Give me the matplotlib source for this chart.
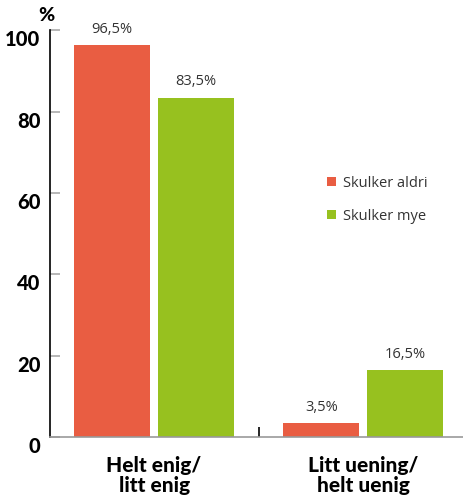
import numpy as np
import matplotlib.pyplot as plt
import matplotlib.transforms as mtransforms
from matplotlib.ticker import FixedLocator

# Data
categories = ['Helt enig/\nlitt enig', 'Litt uening/\nhelt uenig']
series_names = ['Skulker aldri', 'Skulker mye']
skulker_aldri = [96.5, 3.5]
skulker_mye = [83.5, 16.5]
yticks = [0, 20, 40, 60, 80, 100]

orange = '#E95D42'
green = '#97C11F'
text_grey = '#333333'

plt.rcParams['font.family'] = ['Lato', 'DejaVu Sans']

fig = plt.figure(figsize=(4.63, 4.98), dpi=100)
ax = fig.add_axes([50 / 463, 61 / 498, 1 - 50 / 463, (437 - 30.5) / 498])

x = np.arange(len(categories))
w = 0.364
off = 0.2
b1 = ax.bar(x - off, skulker_aldri, w, color=orange, label=series_names[0])
b2 = ax.bar(x + off, skulker_mye, w, color=green, label=series_names[1])

# value labels
for bars in (b1, b2):
    for rect in bars:
        h = rect.get_height()
        ax.text(rect.get_x() + rect.get_width() / 2, h + 2.0,
                f'{h:.1f}%'.replace('.', ','), ha='center', va='bottom',
                fontsize=10.5, color=text_grey, family=['Open Sans', 'DejaVu Sans'])

ax.set_xlim(-0.498, 1.478)
ax.set_ylim(0, 100)

# axes styling
for s in ('top', 'right'):
    ax.spines[s].set_visible(False)
ax.spines['left'].set_color('black')
ax.spines['left'].set_linewidth(1.2)
ax.spines['bottom'].set_color('#999999')
ax.spines['bottom'].set_linewidth(1.2)

ax.set_yticks(yticks)
ax.set_yticklabels([str(v) for v in yticks], fontsize=14.5, fontweight='black')
ax.tick_params(axis='y', direction='in', length=7, width=1.2, color='#aaaaaa',
               pad=7, labelcolor='black')
# labels sit a little below their ticks in the original
shift = mtransforms.ScaledTranslation(0, -8 / 100, fig.dpi_scale_trans)
for lab in ax.get_yticklabels():
    lab.set_transform(lab.get_transform() + shift)

ax.set_xticks(x)
ax.set_xticklabels(categories, fontsize=15, fontweight='black', linespacing=1.05)
ax.tick_params(axis='x', length=0, pad=14)
ax.xaxis.set_minor_locator(FixedLocator([0.5]))
ax.tick_params(axis='x', which='minor', direction='in', length=7, width=1.2,
               color='black')

# percent sign above axis
ax.text(-0.008, 1.016, '%', transform=ax.transAxes, ha='center', va='bottom',
        fontsize=14, fontweight='black')

ax.legend(loc='upper left', bbox_to_anchor=(0.64, 0.675), frameon=False,
          prop={'family': ['Open Sans', 'DejaVu Sans'], 'size': 10.5},
          handlelength=0.6, handleheight=0.6, handletextpad=0.5,
          labelspacing=1.25, labelcolor=text_grey)

fig.savefig('out.png', dpi=100)
